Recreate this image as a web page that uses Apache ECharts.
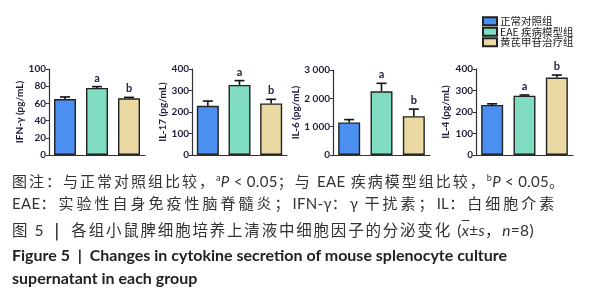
<!DOCTYPE html>
<html>
<head>
<meta charset="utf-8">
<script src="https://cdn.jsdelivr.net/npm/echarts@6/dist/echarts.min.js"></script>
<style>
  html, body { margin: 0; padding: 0; background: #fff; }
  #wrap { position: relative; width: 589px; height: 300px; overflow: hidden; }
  #chart { position: absolute; left: 0; top: 0; width: 589px; height: 300px; }
  .cap { position: absolute; left: 12px; white-space: nowrap; font-family: 'Noto Sans CJK SC', sans-serif;
         font-size: 15px; line-height: 20px; color: #333; letter-spacing: 2px; }
  .cap .lat { font-family: Lato, 'Noto Sans', sans-serif; letter-spacing: 0.3px; }
  .cap sup { font-size: 9px; vertical-align: 6px; line-height: 0; }
  .en { font-family: Lato, 'Noto Sans', sans-serif; font-weight: bold; letter-spacing: 0; color: #222; font-size: 16px; }
</style>
</head>
<body>
<div id="wrap">
  <div id="chart"></div>
  <div class="cap" style="top:171px">图注：与正常对照组比较，<span class="lat"><sup>a</sup><i>P</i> &lt; 0.05</span>；与 <span class="lat">EAE</span> 疾病模型组比较，<span class="lat"><sup>b</sup><i>P</i> &lt; 0.05</span>。</div>
  <div class="cap" style="top:193px;letter-spacing:3px"><span class="lat">EAE</span>：实验性自身免疫性脑脊髓炎；<span class="lat">IFN-γ</span>：<span class="lat">γ</span> 干扰素；<span class="lat">IL</span>：白细胞介素</div>
  <div class="cap" style="top:219px;font-size:15.5px;letter-spacing:1.8px">图 <span class="lat">5</span>&nbsp;&nbsp;<b>|</b>&nbsp;&nbsp;各组小鼠脾细胞培养上清液中细胞因子的分泌变化 <span class="lat">(<i style="text-decoration:overline">x</i>±<i>s</i></span>，<span class="lat"><i>n</i>=8)</span></div>
  <div class="cap en" style="top:245px">Figure 5&nbsp;&nbsp;|&nbsp;&nbsp;Changes in cytokine secretion of mouse splenocyte culture</div>
  <div class="cap en" style="top:268px">supernatant in each group</div>
</div>
<script>
// groups and colours
const groups = ['正常对照组', 'EAE 疾病模型组', '黄芪甲苷治疗组'];
const colors = ['#4b8ff0', '#7fdcc0', '#ead9a2'];
const sigMarks = ['', 'a', 'b'];

// one panel per cytokine
const panelNames = ['IFN-γ (pg/mL)', 'IL-17 (pg/mL)', 'IL-6 (pg/mL)', 'IL-4 (pg/mL)'];
const ifnMean = [65, 78, 66];
const ifnSd = [2.5, 1.5, 1];
const il17Mean = [229, 326, 240];
const il17Sd = [22, 20, 19];
const il6Mean = [1150, 2250, 1370];
const il6Sd = [100, 280, 250];
const il4Mean = [233, 276, 360];
const il4Sd = [5, 3, 12];
const yMax = [100, 400, 3000, 400];
const yStep = [20, 100, 1000, 100];

const means = [ifnMean, il17Mean, il6Mean, il4Mean];
const sds = [ifnSd, il17Sd, il6Sd, il4Sd];

const grids = [
  { left: 49, top: 69, width: 96, height: 86 },
  { left: 192, top: 69, width: 95, height: 86 },
  { left: 333, top: 70, width: 97, height: 85 },
  { left: 476, top: 69, width: 97, height: 86 },
];
const nameGaps = [20, 24, 26, 25];

const axisColor = '#333';
const labelColor = '#1e1e3c';
const numFont = 'Lato, "Noto Sans", sans-serif';

const fmt = v => String(v).replace(/\B(?=(\d{3})+(?!\d))/g, ' ');

const xAxes = grids.map((g, i) => ({
  type: 'category',
  gridIndex: i,
  data: groups,
  axisLabel: { show: false },
  axisLine: { lineStyle: { color: axisColor, width: 1.2 } },
  axisTick: { alignWithLabel: true, length: 3, lineStyle: { color: axisColor } },
}));

const yAxes = grids.map((g, i) => ({
  type: 'value',
  gridIndex: i,
  min: 0,
  max: yMax[i],
  interval: yStep[i],
  name: panelNames[i],
  nameLocation: 'middle',
  nameRotate: 90,
  nameGap: nameGaps[i],
  nameTextStyle: { fontSize: 10, fontWeight: 'bold', color: labelColor, fontFamily: numFont },
  axisLine: { show: true, lineStyle: { color: axisColor, width: 1.2 } },
  axisTick: { show: true, length: 3, lineStyle: { color: axisColor } },
  axisLabel: { fontSize: 10, fontWeight: 'bold', color: labelColor, fontFamily: numFont, margin: 3, formatter: fmt },
  splitLine: { show: false },
}));

const series = [];
means.forEach((m, i) => {
  groups.forEach((g, k) => {
    series.push({
      type: 'bar',
      name: g,
      xAxisIndex: i,
      yAxisIndex: i,
      barWidth: 22,
      barGap: '-100%',
      data: m.map((v, j) => (j === k ? v : '-')),
      itemStyle: { color: colors[k], borderColor: '#222', borderWidth: 1.4 },
    });
  });
  series.push({
    type: 'custom',
    xAxisIndex: i,
    yAxisIndex: i,
    z: 5,
    silent: true,
    data: m.map((v, k) => [k, v, sds[i][k]]),
    encode: { x: 0, y: 1 },
    renderItem: (params, api) => {
      const x = api.value(0);
      const v = api.value(1);
      const s = api.value(2);
      const base = api.coord([x, v]);
      const top = api.coord([x, v + s]);
      const st = { stroke: '#111', lineWidth: 1.6 };
      const children = [
        { type: 'line', shape: { x1: base[0], y1: base[1], x2: top[0], y2: top[1] }, style: st },
        { type: 'line', shape: { x1: top[0] - 5, y1: top[1], x2: top[0] + 5, y2: top[1] }, style: st },
      ];
      const mark = sigMarks[params.dataIndex];
      if (mark) {
        children.push({
          type: 'text',
          x: top[0],
          y: top[1] - 3,
          style: { text: mark, fill: '#222244', font: 'bold 11px Lato, sans-serif', textAlign: 'center', textVerticalAlign: 'bottom' },
        });
      }
      return { type: 'group', children };
    },
  });
});

const chart = echarts.init(document.getElementById('chart'));
chart.setOption({
  animation: false,
  legend: {
    data: groups,
    orient: 'vertical',
    left: 477,
    top: 11,
    icon: 'rect',
    itemWidth: 14,
    itemHeight: 8,
    itemGap: 0,
    selectedMode: false,
    textStyle: { fontSize: 10.5, lineHeight: 10, color: '#222', fontFamily: '"Noto Sans CJK SC", sans-serif', padding: [0, 0, 0, -2] },
  },
  grid: grids,
  xAxis: xAxes,
  yAxis: yAxes,
  series,
});
</script>
</body>
</html>
